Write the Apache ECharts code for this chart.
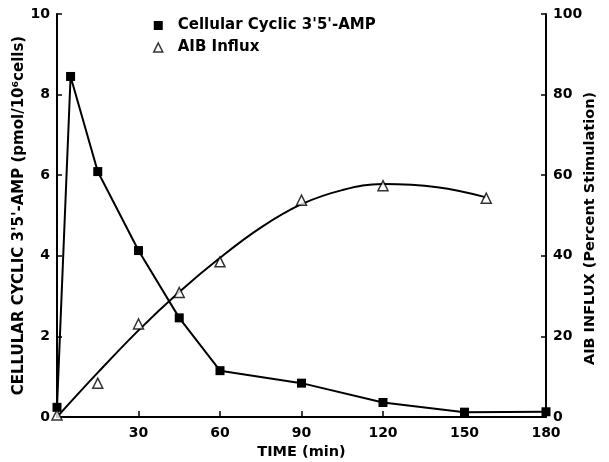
<!DOCTYPE html>
<html><head><meta charset="utf-8">
<script src="https://cdn.jsdelivr.net/npm/echarts@6/dist/echarts.min.js"></script>
<style>html,body{margin:0;padding:0;background:#fff}#c{width:609px;height:462px}</style>
</head><body><div id="c"></div>
<script>
var campTimes = [0, 5, 15, 30, 45, 60, 90, 120, 150, 180];
var campValues = [0.24, 8.45, 6.09, 4.13, 2.46, 1.15, 0.84, 0.36, 0.12, 0.13];
var aibTimes = [0, 15, 30, 45, 60, 90, 120, 158];
var aibValues = [0.5, 8.4, 23.1, 30.9, 38.5, 53.8, 57.4, 54.3];
var aibCurveTimes = [0, 15, 30, 45, 60, 75, 90, 105, 120, 140, 158];
var aibCurveValues = [0, 11, 21.5, 31, 39.5, 47, 52.8, 56.3, 57.8, 57.0, 54.5];
var xTicks = [0, 30, 60, 90, 120, 150, 180];
var leftTicks = [0, 2, 4, 6, 8, 10];
var rightTicks = [0, 20, 40, 60, 80, 100];

function pairs(xs, ys){ return xs.map(function(x,i){return [x, ys[i]];}); }
var font = 'DejaVu Sans';
var chart = echarts.init(document.getElementById('c'));
chart.setOption({
  animation: false,
  backgroundColor: '#fff',
  textStyle: {fontFamily: font, color: '#000'},
  grid: {left: 57, right: 63, top: 14, bottom: 45, containLabel: false, outerBoundsMode: 'none'},
  legend: {
    orient: 'vertical', left: 148, top: 13, itemGap: 7, itemWidth: 9, itemHeight: 9,
    textStyle: {fontFamily: font, fontWeight: 'bold', fontSize: 15, color: '#000', padding: [0, 0, 0, 10]},
    data: [
      {name: "Cellular Cyclic 3'5'-AMP", icon: 'rect', itemStyle: {color: '#000'}},
      {name: 'AIB Influx', icon: 'triangle', itemStyle: {color: '#fff', borderColor: '#000', borderWidth: 1.5}}
    ]
  },
  xAxis: {
    type: 'value', min: xTicks[0], max: xTicks[xTicks.length-1], interval: 30,
    name: 'TIME (min)', nameLocation: 'middle', nameGap: 28,
    nameTextStyle: {fontFamily: font, fontWeight: 'bold', fontSize: 14.5, color: '#000'},
    axisLine: {lineStyle: {color: '#000', width: 2}},
    axisTick: {inside: true, length: 6, lineStyle: {color: '#000', width: 1.5}},
    axisLabel: {fontFamily: font, fontWeight: 'bold', fontSize: 14, color: '#000', margin: 9,
      formatter: function(v){ return v === 0 ? '' : String(v); }},
    splitLine: {show: false}
  },
  yAxis: [{
    type: 'value', min: leftTicks[0], max: leftTicks[leftTicks.length-1], interval: 2,
    name: "CELLULAR CYCLIC 3'5'-AMP (pmol/10\u2076cells)", nameLocation: 'middle', nameGap: 30, nameRotate: 90,
    nameMoveOverlap: false,
    nameTextStyle: {fontFamily: font, fontWeight: 'bold', fontSize: 15, color: '#000'},
    axisLine: {show: true, lineStyle: {color: '#000', width: 2}},
    axisTick: {show: true, inside: true, length: 5, lineStyle: {color: '#000', width: 1.5}},
    axisLabel: {fontFamily: font, fontWeight: 'bold', fontSize: 14, color: '#000', margin: 7},
    splitLine: {show: false}
  }, {
    type: 'value', position: 'right', min: rightTicks[0], max: rightTicks[rightTicks.length-1], interval: 20,
    name: 'AIB INFLUX (Percent Stimulation)', nameLocation: 'middle', nameGap: 37, nameRotate: 90,
    nameMoveOverlap: false,
    nameTextStyle: {fontFamily: font, fontWeight: 'bold', fontSize: 14.5, color: '#000', padding: [0, 26, 0, 0]},
    axisLine: {show: true, lineStyle: {color: '#000', width: 2}},
    axisTick: {show: true, inside: true, length: 5, lineStyle: {color: '#000', width: 1.5}},
    axisLabel: {fontFamily: font, fontWeight: 'bold', fontSize: 14, color: '#000', margin: 7},
    splitLine: {show: false}
  }],
  series: [{
    name: "Cellular Cyclic 3'5'-AMP", type: 'line', yAxisIndex: 0,
    data: pairs(campTimes, campValues),
    symbol: 'rect', symbolSize: 9,
    lineStyle: {color: '#000', width: 2}, itemStyle: {color: '#000'}, z: 3
  }, {
    name: 'AIB curve', type: 'line', yAxisIndex: 1, smooth: 0.4,
    data: pairs(aibCurveTimes, aibCurveValues), showSymbol: false, symbol: 'none',
    lineStyle: {color: '#000', width: 2}, z: 2
  }, {
    name: 'AIB Influx', type: 'scatter', yAxisIndex: 1,
    data: pairs(aibTimes, aibValues),
    symbol: 'triangle', symbolSize: 10,
    itemStyle: {color: '#fff', borderColor: '#000', borderWidth: 1.5}, z: 4
  }]
});
</script></body></html>
